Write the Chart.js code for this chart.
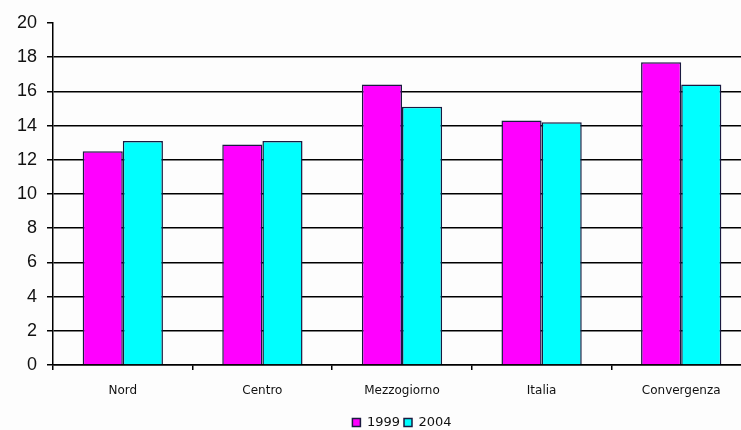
<!DOCTYPE html>
<html>
<head>
<meta charset="utf-8">
<script src="https://cdn.jsdelivr.net/npm/chart.js@4/dist/chart.umd.min.js"></script>
<style>
  html, body { margin: 0; padding: 0; background: #fdfdfd; overflow: hidden; }
  canvas { display: block; }
</style>
</head>
<body>
<canvas id="chart" width="752" height="439"></canvas>
<script>
const categories = ["Nord", "Centro", "Mezzogiorno", "Italia", "Convergenza"];
const values1999 = [12.5, 12.9, 16.4, 14.3, 17.7];
const values2004 = [13.1, 13.1, 15.1, 14.2, 16.4];
const yTicks = [0, 2, 4, 6, 8, 10, 12, 14, 16, 18, 20];

const ctx = document.getElementById("chart").getContext("2d");

const chart = new Chart(ctx, {
    type: "bar",
    data: {
        labels: categories,
        datasets: [
            { label: "1999", data: values1999, backgroundColor: "#ff00ff", borderColor: "#1a1a40", borderWidth: 1.5 },
            { label: "2004", data: values2004, backgroundColor: "#00ffff", borderColor: "#1a1a40", borderWidth: 1.5 }
        ]
    },
    options: {
        responsive: false,
        animation: false,
        layout: { padding: { top: 23, right: 1, left: 0, bottom: 0 } },
        datasets: { bar: { categoryPercentage: 0.575, barPercentage: 1 } },
        plugins: {
            tooltip: { enabled: false },
            legend: {
                position: "bottom",
                fullSize: false,
                labels: {
                    boxWidth: 8,
                    boxHeight: 8,
                    padding: 4,
                    color: "#111",
                    font: { family: "'DejaVu Sans', Arial", size: 13 },
                    useBorderRadius: false
                }
            }
        },
        scales: {
            x: {
                offset: true,
                grid: { display: true, drawOnChartArea: false, offset: true, color: "#000", tickLength: 5, lineWidth: 1.5 },
                border: { color: "#000", width: 1.5 },
                ticks: { color: "#111", padding: 14, font: { family: "'DejaVu Sans', Arial", size: 12 } },
                afterFit: s => { s.height = 47; }
            },
            y: {
                min: 0,
                max: 20,
                afterBuildTicks: s => { s.ticks = yTicks.map(v => ({ value: v })); },
                grid: {
                    color: c => (c.tick && c.tick.value === 20) ? "rgba(0,0,0,0)" : "#000",
                    tickColor: "#000",
                    lineWidth: 1.5,
                    tickLength: 6
                },
                border: { color: "#000", width: 1.5 },
                ticks: { color: "#111", padding: 10, font: { family: "Arial, 'Liberation Sans'", size: 18 } },
                afterFit: s => { s.width = 53; }
            }
        }
    }
});
</script>
</body>
</html>
